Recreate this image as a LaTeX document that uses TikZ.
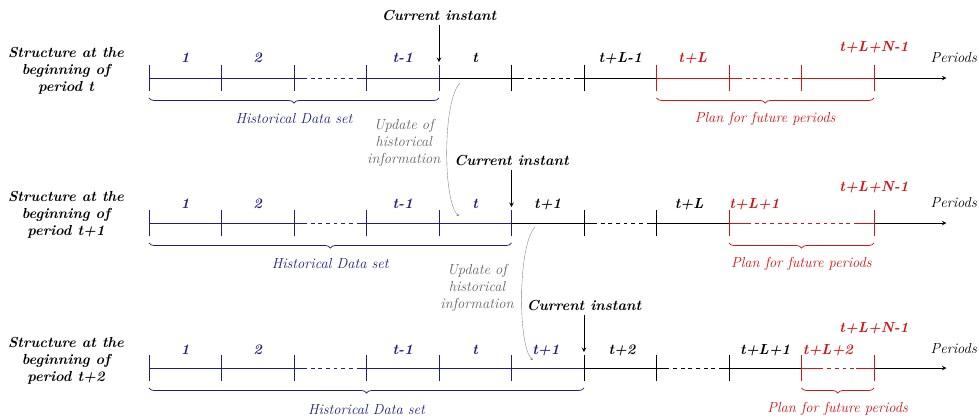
\documentclass[tikz,border=0pt]{standalone}
\usetikzlibrary{decorations.pathreplacing,arrows,arrows.meta}
\definecolor{histblue}{RGB}{30,30,125}
\definecolor{planred}{RGB}{210,20,20}
\definecolor{updgray}{RGB}{100,100,100}
\newcommand{\labfont}{\fontsize{11.4}{13.4}\selectfont}

\begin{document}
\begin{tikzpicture}[>=stealth, line width=0.6pt]
    \tikzstyle{hist}=[draw=histblue]
    \tikzstyle{plan}=[draw=planred]
    \tikzstyle{period}=[anchor=base, font=\labfont\bfseries\itshape]
    \tikzstyle{annot}=[align=center, font=\labfont\bfseries\itshape]
    \tikzstyle{now}=[anchor=base, font=\labfont\bfseries\itshape]
    \tikzstyle{setlabel}=[font=\labfont\itshape]
    \tikzstyle{update}=[align=center, text=updgray, font=\labfont\itshape]
    \tikzstyle{curly}=[decorate, decoration={brace, mirror, amplitude=4pt}]
    \tikzstyle{upd line}=[draw=updgray!80, line width=0.3pt, -{Stealth[length=2pt,width=2pt]}]

    \useasboundingbox (-4.11,-9.407) rectangle (22.897,2.152);

    % Structure at the beginning of period t
    \node[annot] (s1) at (-2.29,0.2) {Structure at the\\beginning of\\period t};
    \draw[hist] (0,0) -- (4.25,0) (5.75,0) -- (8,0);
    \draw[hist,dashed] (4.25,0) -- (5.75,0);
    \draw (8,0) -- (10.25,0) (11.75,0) -- (14,0);
    \draw[dashed] (10.25,0) -- (11.75,0);
    \draw[plan] (14,0) -- (16.25,0) (17.75,0) -- (20,0);
    \draw[plan,dashed] (16.25,0) -- (17.75,0);
    \draw[->] (20,0) -- (22,0);
    \foreach \x in {0,2,...,8} \draw[hist] (\x,-0.36) -- (\x,0.36);
    \foreach \x in {10,12} \draw (\x,-0.36) -- (\x,0.36);
    \foreach \x in {14,16,...,20} \draw[plan] (\x,-0.36) -- (\x,0.36);

    \foreach \x/\lab [count=\i] in {1/1,3/2,7/t-1}
        \node[period,text=histblue] (a-\i) at (\x,0.44) {\lab};
    \foreach \x/\lab [count=\i] in {9/t,13/t+L-1}
        \node[period] (a-b\i) at (\x,0.44) {\lab};
    \node[period,text=planred] (a-r1) at (15,0.44) {t+L};
    \node[period,text=planred] (a-r2) at (20,0.72) {t+L+N-1};
    \node[setlabel,anchor=base] (per1) at (22.2,0.44) {Periods};

    \node[now] (ci1) at (8,1.6) {Current instant};
    \coordinate (ci1-end) at (8,0.44);
    \draw[->] (ci1) -- (ci1-end);

    \draw[hist,curly] (0,-0.55) -- (8,-0.55);
    \node[setlabel,text=histblue] (hd1) at (4,-1.13) {Historical Data set};
    \draw[plan,curly] (14,-0.55) -- (20,-0.55);
    \node[setlabel,text=planred] (pf1) at (17,-1.13) {Plan for future periods};

    % Update from period t to period t+1
    \node[update] (up1) at (7.03,-1.79) {Update of\\historical\\information};
    \coordinate (u1-top) at (8.58,-0.14);
    \coordinate (u1-bot) at (8.55,-3.81);
    \draw[upd line] (u1-top) .. controls (8.1,-0.6) and (8.1,-3.4) .. (u1-bot);

    % Structure at the beginning of period t+1
    \node[annot] (s2) at (-2.29,-3.78) {Structure at the\\beginning of\\period t+1};
    \draw[hist] (0,-4) -- (4.25,-4) (5.75,-4) -- (10,-4);
    \draw[hist,dashed] (4.25,-4) -- (5.75,-4);
    \draw (10,-4) -- (12.25,-4) (13.75,-4) -- (16,-4);
    \draw[dashed] (12.25,-4) -- (13.75,-4);
    \draw[plan] (16,-4) -- (16.5,-4) (19.5,-4) -- (20,-4);
    \draw[plan,dashed] (16.5,-4) -- (19.5,-4);
    \draw[->] (20,-4) -- (22,-4);
    \foreach \x in {0,2,...,10} \draw[hist] (\x,-4.36) -- (\x,-3.64);
    \foreach \x in {12,14} \draw (\x,-4.36) -- (\x,-3.64);
    \foreach \x in {16,20} \draw[plan] (\x,-4.36) -- (\x,-3.64);

    \foreach \x/\lab [count=\i] in {1/1,3/2,7/t-1,9/t}
        \node[period,text=histblue] (b-\i) at (\x,-3.6) {\lab};
    \foreach \x/\lab [count=\i] in {11/t+1,14.9/t+L}
        \node[period] (b-b\i) at (\x,-3.6) {\lab};
    \node[period,text=planred] (b-r1) at (16.7,-3.6) {t+L+1};
    \node[period,text=planred] (b-r2) at (20,-3.14) {t+L+N-1};
    \node[setlabel,anchor=base] (per2) at (22.2,-3.56) {Periods};

    \node[now] (ci2) at (10,-2.4) {Current instant};
    \coordinate (ci2-end) at (10,-3.56);
    \draw[->] (ci2) -- (ci2-end);

    \draw[hist,curly] (0,-4.55) -- (10,-4.55);
    \node[setlabel,text=histblue] (hd2) at (5,-5.13) {Historical Data set};
    \draw[plan,curly] (16,-4.55) -- (20,-4.55);
    \node[setlabel,text=planred] (pf2) at (18,-5.13) {Plan for future periods};

    % Update from period t+1 to period t+2
    \node[update] (up2) at (9.05,-5.79) {Update of\\historical\\information};
    \coordinate (u2-top) at (10.65,-4.11);
    \coordinate (u2-bot) at (10.59,-7.78);
    \draw[upd line] (u2-top) .. controls (10.17,-4.6) and (10.17,-7.4) .. (u2-bot);

    % Structure at the beginning of period t+2
    \node[annot] (s3) at (-2.29,-7.8) {Structure at the\\beginning of\\period t+2};
    \draw[hist] (0,-8) -- (4.25,-8) (5.75,-8) -- (12,-8);
    \draw[hist,dashed] (4.25,-8) -- (5.75,-8);
    \draw (12,-8) -- (14.25,-8) (15.75,-8) -- (18,-8);
    \draw[dashed] (14.25,-8) -- (15.75,-8);
    \draw[plan] (18,-8) -- (18.5,-8) (19.5,-8) -- (20,-8);
    \draw[plan,dashed] (18.5,-8) -- (19.5,-8);
    \draw[->] (20,-8) -- (22,-8);
    \foreach \x in {0,2,...,10} \draw[hist] (\x,-8.36) -- (\x,-7.64);
    \foreach \x in {12,14,16} \draw (\x,-8.36) -- (\x,-7.64);
    \foreach \x in {18,20} \draw[plan] (\x,-8.36) -- (\x,-7.64);

    \foreach \x/\lab [count=\i] in {1/1,3/2,7/t-1,9/t,10.95/t+1}
        \node[period,text=histblue] (c-\i) at (\x,-7.62) {\lab};
    \foreach \x/\lab [count=\i] in {13.05/t+2,17/t+L+1}
        \node[period] (c-b\i) at (\x,-7.62) {\lab};
    \node[period,text=planred] (c-r1) at (18.73,-7.62) {t+L+2};
    \node[period,text=planred] (c-r2) at (20,-7.03) {t+L+N-1};
    \node[setlabel,anchor=base] (per3) at (22.2,-7.59) {Periods};

    \node[now] (ci3) at (12,-6.4) {Current instant};
    \coordinate (ci3-end) at (12,-7.56);
    \draw[->] (ci3) -- (ci3-end);

    \draw[hist,curly] (0,-8.55) -- (12,-8.55);
    \node[setlabel,text=histblue] (hd3) at (6,-9.14) {Historical Data set};
    \draw[plan,curly] (18,-8.55) -- (20,-8.55);
    \node[setlabel,text=planred] (pf3) at (19,-9.14) {Plan for future periods};
\end{tikzpicture}
\end{document}
